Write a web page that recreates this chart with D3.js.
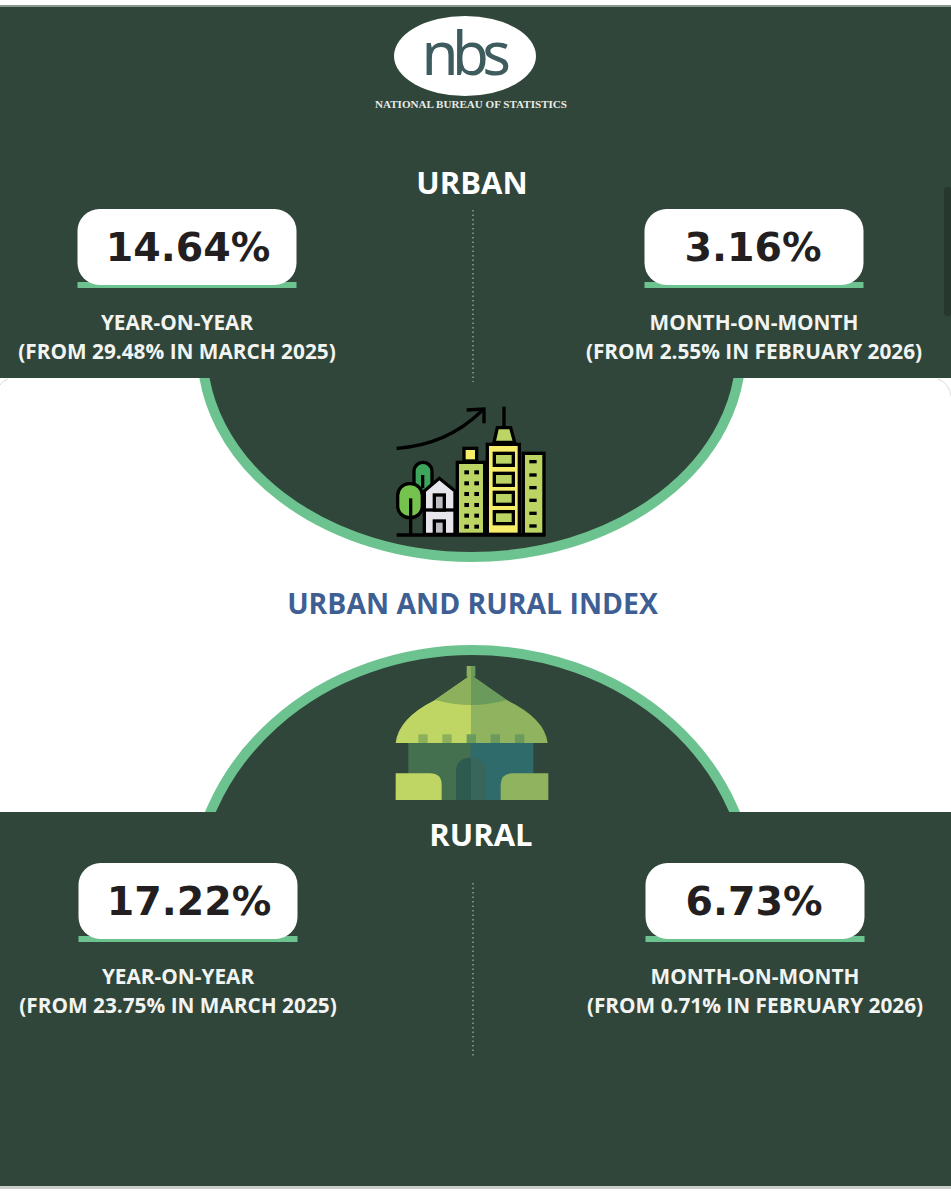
<!DOCTYPE html>
<html>
<head>
<meta charset="utf-8">
<script src="https://cdnjs.cloudflare.com/ajax/libs/d3/7.8.5/d3.min.js"></script>
<style>
html,body{margin:0;padding:0;background:#fff;overflow:hidden}
svg{display:block}
</style>
</head>
<body>
<div id="chart"></div>
<script>
const areas = ['URBAN', 'RURAL']
const measures = ['YEAR-ON-YEAR', 'MONTH-ON-MONTH']
const urbanValues = [14.64, 3.16]
const ruralValues = [17.22, 6.73]
const urbanPrevious = ['(FROM 29.48% IN MARCH 2025)', '(FROM 2.55% IN FEBRUARY 2026)']
const ruralPrevious = ['(FROM 23.75% IN MARCH 2025)', '(FROM 0.71% IN FEBRUARY 2026)']
const chartTitle = 'URBAN AND RURAL INDEX'
const bureau = 'NATIONAL BUREAU OF STATISTICS'

const width = 951, height = 1199
const dark = '#30463a', green = '#6dc38f', ink = '#231f20'
const labelFont = '"Open Sans", sans-serif'

const svg = d3.select('#chart').append('svg').attr('width', width).attr('height', height)

svg.append('rect').attr('width', width).attr('height', height).attr('fill', '#fff')

// dark top and bottom panels
svg.append('rect').attr('x', 0).attr('y', 6).attr('width', width).attr('height', 372).attr('fill', dark)
svg.append('rect').attr('x', 0).attr('y', 812).attr('width', width).attr('height', 374).attr('fill', dark)
svg.append('rect').attr('x', 0).attr('y', 1186).attr('width', width).attr('height', 3).attr('fill', '#c9cdca')
svg.append('rect').attr('x', 0).attr('y', 5).attr('width', width).attr('height', 2).attr('fill', '#8d9791')
svg.append('rect').attr('x', 944).attr('y', 187).attr('width', 7).attr('height', 129).attr('rx', 3).attr('fill', '#26382e')

// faint rounded corners of the white band
svg.append('path').attr('d', 'M938,379 Q949,383 951,396').attr('fill', 'none').attr('stroke', '#d8dcd9')
svg.append('path').attr('d', 'M8,379 Q2,381 0,385').attr('fill', 'none').attr('stroke', '#d8dcd9')

// half ellipses, the arcs are flatter than a true circle
const bowl = [
  {cx: 471.5, cy: 350, rx: 269.5, ry: 207, clipY: 378, h: 300},
  {cx: 472.5, cy: 900, rx: 280, ry: 250, clipY: 512, h: 300}
]
bowl.forEach((b, i) => {
  svg.append('clipPath').attr('id', 'bowl' + i).append('rect')
    .attr('x', 0).attr('y', b.clipY).attr('width', width).attr('height', b.h)
  svg.append('ellipse')
    .attr('cx', b.cx).attr('cy', b.cy).attr('rx', b.rx).attr('ry', b.ry)
    .attr('fill', dark).attr('stroke', green).attr('stroke-width', 10)
    .attr('clip-path', 'url(#bowl' + i + ')')
})

// logo
svg.append('ellipse').attr('cx', 465).attr('cy', 56).attr('rx', 71).attr('ry', 40).attr('fill', '#fff')
svg.append('text').attr('x', 463).attr('y', 75).attr('text-anchor', 'middle')
  .attr('font-family', '"Noto Sans", sans-serif').attr('font-weight', 400).attr('font-size', 60)
  .attr('letter-spacing', -6.5).attr('fill', '#3e5b5e').text('nbs')
svg.append('text').attr('x', 471).attr('y', 108).attr('text-anchor', 'middle')
  .attr('font-family', '"Liberation Serif", serif').attr('font-weight', 700).attr('font-size', 10)
  .attr('textLength', 192).attr('lengthAdjust', 'spacingAndGlyphs').attr('fill', '#e8ebe8').text(bureau)

// panels are placed with scales, the rural one sits 1px to the right
const colUrban = d3.scalePoint().domain(measures).range([187, 754])
const colRural = d3.scalePoint().domain(measures).range([188, 755])

function drawPanel(name, titleX, titleY, top, col, values, previous, dotTop, dotBottom) {
  let g = svg.append('g')
  g.append('text').attr('x', titleX).attr('y', titleY).attr('text-anchor', 'middle')
    .attr('font-family', labelFont).attr('font-weight', 700).attr('font-size', 31)
    .attr('fill', '#fff').text(name)

  g.append('line').attr('x1', 473).attr('x2', 473).attr('y1', dotTop).attr('y2', dotBottom)
    .attr('stroke', '#c4cbc6').attr('stroke-width', 1).attr('stroke-dasharray', '1.5,3')

  measures.forEach((m, i) => {
    let cx = col(m)
    g.append('rect').attr('x', cx - 109.5).attr('y', top + 73).attr('width', 219).attr('height', 6).attr('fill', green)
    g.append('rect').attr('x', cx - 109.5).attr('y', top).attr('width', 219).attr('height', 76)
      .attr('rx', 22).attr('fill', '#fff')
    g.append('text').attr('x', cx + 1 - i * 2).attr('y', top + 52).attr('text-anchor', 'middle')
      .attr('font-family', '"DejaVu Sans", sans-serif').attr('font-weight', 700).attr('font-size', 39.5)
      .attr('fill', ink).text(d3.format('.2f')(values[i]) + '%')
    g.append('text').attr('x', cx - 10 + i * 10).attr('y', top + 121).attr('text-anchor', 'middle')
      .attr('font-family', labelFont).attr('font-weight', 700).attr('font-size', 20.8)
      .attr('fill', '#f2f4f2').text(m)
    g.append('text').attr('x', cx - 10 + i * 10).attr('y', top + 150).attr('text-anchor', 'middle')
      .attr('font-family', labelFont).attr('font-weight', 700).attr('font-size', 20.8)
      .attr('fill', '#f2f4f2').text(previous[i])
  })
}

drawPanel(areas[0], 472, 194, 209, colUrban, urbanValues, urbanPrevious, 210, 382)
drawPanel(areas[1], 481, 846, 863, colRural, ruralValues, ruralPrevious, 883, 1056)

svg.append('text').attr('x', 472.5).attr('y', 614).attr('text-anchor', 'middle')
  .attr('font-family', labelFont).attr('font-weight', 700).attr('font-size', 28.4)
  .attr('fill', '#3f5f94').text(chartTitle)

// city icon, drawn on a 3x grid
const city = svg.append('g').attr('transform', 'translate(380,395) scale(0.3333)')
  .attr('stroke', '#000').attr('stroke-width', 10).attr('stroke-linejoin', 'miter')
const lime = '#bcd463', yellow = '#f6ee6a'
city.append('path').attr('d', 'M50,160 Q200,150 305,48').attr('fill', 'none')
city.append('path').attr('d', 'M260,45 L312,42 L312,85').attr('fill', 'none')
city.append('line').attr('x1', 372).attr('x2', 372).attr('y1', 35).attr('y2', 98)
city.append('path').attr('d', 'M342,142 L352,98 L392,98 L404,142 Z').attr('fill', lime)
city.append('rect').attr('x', 322).attr('y', 148).attr('width', 96).attr('height', 270).attr('fill', yellow)
;[175, 235, 292, 350].forEach(y => {
  city.append('rect').attr('x', 343).attr('y', y).attr('width', 57).attr('height', 36).attr('fill', lime)
})
city.append('rect').attr('x', 252).attr('y', 160).attr('width', 38).attr('height', 38).attr('fill', yellow)
city.append('rect').attr('x', 232).attr('y', 202).attr('width', 82).attr('height', 216).attr('fill', lime)
;[232, 265, 297, 330, 362, 395].forEach(y => {
  ;[260, 290].forEach(x => {
    city.append('rect').attr('x', x - 7).attr('y', y - 6).attr('width', 14).attr('height', 12).attr('fill', '#000').attr('stroke', 'none')
  })
})
city.append('rect').attr('x', 430).attr('y', 175).attr('width', 62).attr('height', 243).attr('fill', lime)
;[200, 240, 278, 316, 355, 393].forEach(y => {
  city.append('rect').attr('x', 448).attr('y', y - 5).attr('width', 22).attr('height', 10).attr('fill', '#000').attr('stroke', 'none')
})
city.append('rect').attr('x', 102).attr('y', 202).attr('width', 54).attr('height', 90).attr('rx', 27).attr('fill', '#3fa45b')
city.append('line').attr('x1', 128).attr('x2', 128).attr('y1', 240).attr('y2', 280)
city.append('rect').attr('x', 53).attr('y', 266).attr('width', 74).attr('height', 102).attr('rx', 35).attr('fill', '#76c24f')
city.append('line').attr('x1', 92).attr('x2', 92).attr('y1', 310).attr('y2', 418)
city.append('path').attr('d', 'M133,418 L133,288 L178,250 L225,288 L225,418 Z').attr('fill', '#e6e6ec')
city.append('line').attr('x1', 133).attr('x2', 225).attr('y1', 345).attr('y2', 345)
city.append('rect').attr('x', 163).attr('y', 300).attr('width', 30).attr('height', 45).attr('fill', '#bdbdc4')
city.append('rect').attr('x', 163).attr('y', 378).attr('width', 30).attr('height', 40).attr('fill', '#bdbdc4')
city.append('line').attr('x1', 50).attr('x2', 496).attr('y1', 420).attr('y2', 420)

// hut icon, same grid
const hut = svg.append('g').attr('transform', 'translate(380,655) scale(0.3333)')
const hutLeft = '#bfd665', hutRight = '#8fb35f', capLeft = '#8db05c', capRight = '#6a9a5c'
hut.append('rect').attr('x', 85).attr('y', 262).attr('width', 188).attr('height', 173).attr('fill', '#45704f')
hut.append('rect').attr('x', 272).attr('y', 262).attr('width', 188).attr('height', 173).attr('fill', '#2f6b6b')
hut.append('path').attr('d', 'M228,435 V350 Q228,308 273,308 V435 Z').attr('fill', '#2e5a50')
hut.append('path').attr('d', 'M273,435 V308 Q318,308 318,350 V435 Z').attr('fill', '#38665a')
hut.append('path').attr('d', 'M273,60 L165,135 Q55,190 47,264 L273,264 Z').attr('fill', hutLeft)
hut.append('path').attr('d', 'M273,60 L380,135 Q495,190 503,264 L273,264 Z').attr('fill', hutRight)
hut.append('path').attr('d', 'M273,60 L165,135 Q220,150 273,150 Z').attr('fill', capLeft)
hut.append('path').attr('d', 'M273,60 L380,135 Q325,150 273,150 Z').attr('fill', capRight)
hut.append('rect').attr('x', 260).attr('y', 33).attr('width', 13).attr('height', 32).attr('fill', capLeft)
hut.append('rect').attr('x', 273).attr('y', 33).attr('width', 13).attr('height', 32).attr('fill', capRight)
;[115, 187, 260, 332, 405].forEach((x, i) => {
  hut.append('rect').attr('x', x).attr('y', 238).attr('width', 28).attr('height', 26).attr('fill', i < 2 ? capLeft : capRight)
})
hut.append('path').attr('d', 'M47,355 H150 Q185,355 185,390 V435 H47 Z').attr('fill', hutLeft)
hut.append('path').attr('d', 'M505,355 H397 Q362,355 362,390 V435 H505 Z').attr('fill', hutRight)
</script>
</body>
</html>
